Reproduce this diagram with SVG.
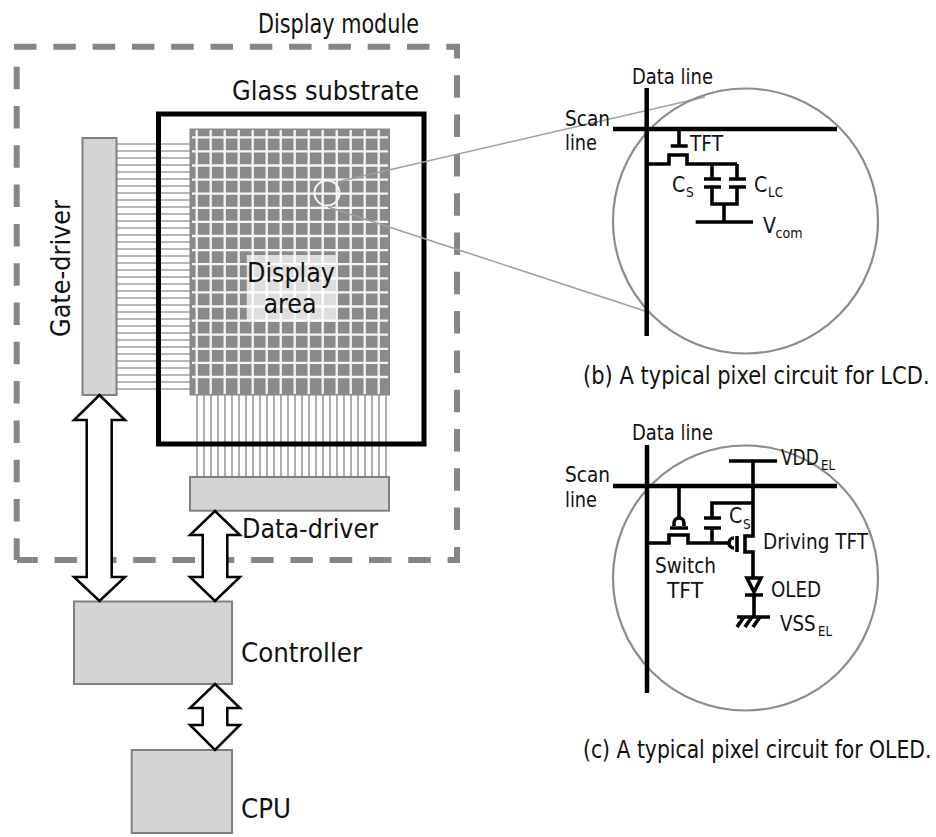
<svg xmlns="http://www.w3.org/2000/svg" width="936" height="837" viewBox="0 0 936 837">
<defs><style>
text{font-family:"DejaVu Sans Condensed","DejaVu Sans","Liberation Sans",sans-serif;font-stretch:condensed;fill:#111}
.l{font-size:26.500px}.c{font-size:25px}.m{font-size:21px}.s{font-size:13.500px}
.box{fill:#d4d4d4;stroke:#808080;stroke-width:2}
.arrow{fill:#fff;stroke:#000;stroke-width:2.500;stroke-linejoin:miter}
.w{fill:none;stroke:#000;stroke-width:3.600}
.wide{fill:none;stroke:#000;stroke-width:4.500}
.bus{stroke:#a0a0a0;stroke-width:1.700;fill:none}
.grid{stroke:#f6f6f6;stroke-width:2.300;fill:none}
.lead{stroke:#a0a0a0;stroke-width:1.600;fill:none}
.ring{fill:none;stroke:#8c8c8c;stroke-width:2.200}
.dash{fill:none;stroke:#868686;stroke-width:6;stroke-dasharray:22.500 16.800}
</style></defs>
<rect width="936" height="837" fill="#fff"/>

<g id="display-module"><path class="dash" d="M14 46.700H457V560H17"/><path class="dash" d="M16.700 66.700V560"/><text class="l" x="258" y="33" textLength="161" lengthAdjust="spacingAndGlyphs">Display module</text></g>

<g id="bus-lines">
<path class="bus" d="M117 144H190M117 151H190M117 158H190M117 165H190M117 172H190M117 179H190M117 186H190M117 193H190M117 200H190M117 207H190M117 214H190M117 221H190M117 228H190M117 235H190M117 242H190M117 249H190M117 256H190M117 263H190M117 270H190M117 277H190M117 284H190M117 291H190M117 298H190M117 305H190M117 312H190M117 319H190M117 326H190M117 333H190M117 340H190M117 347H190M117 354H190M117 361H190M117 368H190M117 375H190M117 382H190M117 389H190"/>
<path class="bus" d="M197 395V477M204 395V477M211 395V477M218 395V477M225 395V477M232 395V477M239 395V477M246 395V477M253 395V477M260 395V477M267 395V477M274 395V477M281 395V477M288 395V477M295 395V477M302 395V477M309 395V477M316 395V477M323 395V477M330 395V477M337 395V477M344 395V477M351 395V477M358 395V477M365 395V477M372 395V477M379 395V477M386 395V477"/>
</g>

<g id="glass-substrate"><rect x="158.500" y="114" width="265.500" height="330" fill="none" stroke="#000" stroke-width="5"/><text class="l" x="232" y="99.500" textLength="187" lengthAdjust="spacingAndGlyphs">Glass substrate</text></g>

<g id="display-area">
<rect x="190" y="129" width="199.500" height="266" fill="#8a8a8a" stroke="#8a8a8a" stroke-width="1"/>
<path class="grid" d="M192 137.300H388M192 151.400H388M192 165.500H388M192 179.600H388M192 193.700H388M192 207.800H388M192 221.900H388M192 236H388M192 250.100H388M192 264.200H388M192 278.300H388M192 292.400H388M192 306.500H388M192 320.600H388M192 334.700H388M192 348.800H388M192 362.900H388M192 377H388"/>
<path class="grid" d="M196.700 130V394M210.700 130V394M224.700 130V394M238.700 130V394M252.700 130V394M266.700 130V394M280.700 130V394M294.700 130V394M308.700 130V394M322.700 130V394M336.700 130V394M350.700 130V394M364.700 130V394M378.700 130V394"/>
<rect x="246.700" y="255" width="89" height="66.700" fill="#fff" fill-opacity=".72"/>
<text class="l" x="247" y="281.700" textLength="88" lengthAdjust="spacingAndGlyphs">Display</text>
<text class="l" x="263.500" y="313" textLength="53" lengthAdjust="spacingAndGlyphs">area</text>
<circle cx="327" cy="193" r="12.500" fill="none" stroke="#f6f6f6" stroke-width="2"/>
</g>

<g id="gate-driver"><rect class="box" x="82.500" y="138" width="34" height="257"/><text class="l" transform="translate(70 337) rotate(-90)" textLength="137" lengthAdjust="spacingAndGlyphs">Gate-driver</text></g>
<g id="data-driver"><rect class="box" x="190" y="477" width="199" height="33.700"/><text class="l" x="242" y="538" textLength="136" lengthAdjust="spacingAndGlyphs">Data-driver</text></g>
<g id="controller"><rect class="box" x="74" y="601.500" width="158" height="82.500"/><text class="l" x="241" y="662" textLength="121" lengthAdjust="spacingAndGlyphs">Controller</text></g>
<g id="cpu"><rect class="box" x="131.700" y="750" width="100.300" height="83"/><text class="l" x="241" y="818" textLength="50" lengthAdjust="spacingAndGlyphs">CPU</text></g>

<g id="connectors">
<path class="arrow" d="M99.500 395L125 420H111.700V577H125L99.500 601L74 577H86.700V420H74Z"/>
<path class="arrow" d="M215 511L240 535H227.300V577H240L215 601L190 577H202.700V535H190Z"/>
<path class="arrow" d="M215 684L240 708H227.300V725H240L215 750L190 725H202.700V708H190Z"/>
<path class="lead" d="M338 181.700L705 97M328 207L648 312"/>
</g>

<g id="pixel-lcd">
<circle class="ring" cx="745.500" cy="221" r="132.500"/>
<path class="wide" d="M646.700 88V336M613 129H837"/>
<path class="w" d="M679 129V146M670.700 146H687.700M647 164H669V155H687V164H737M712 164V179M737 164V179M704 179H721M729 179H746M704 187H721M729 187H746M712 187V204H737V187M724 204V222M695.700 222H753"/>
<text class="m" x="632" y="84" textLength="81" lengthAdjust="spacingAndGlyphs">Data line</text>
<text class="m" x="565" y="126" textLength="45" lengthAdjust="spacingAndGlyphs">Scan</text>
<text class="m" x="565" y="150" textLength="32" lengthAdjust="spacingAndGlyphs">line</text>
<text class="m" x="690" y="151" textLength="33" lengthAdjust="spacingAndGlyphs">TFT</text>
<text class="m" x="672" y="192">C</text><text class="s" x="686" y="197">S</text>
<text class="m" x="754" y="192">C</text><text class="s" x="768" y="197" textLength="15" lengthAdjust="spacingAndGlyphs">LC</text>
<text class="m" x="763" y="233">V</text><text class="s" x="775.500" y="238" textLength="27" lengthAdjust="spacingAndGlyphs">com</text>
<text class="c" transform="translate(583 384) scale(.935 1)">(b) A typical pixel circuit for LCD.</text>
</g>

<g id="pixel-oled">
<circle class="ring" cx="745.500" cy="578" r="132.500"/>
<path class="wide" d="M647 445V693M613 486H837"/>
<path class="w" d="M729 461H777M753 461V536H745V552H753V578M753 503H712V518M704 518H721M704 528H721M712 528V543M647 543H669V535H688V543H729M679 486V518M670 528H688M737 536V552M754 595V617M737 617H770M744 617L737 627M752 617L745 627M760 617L753 627M745 595H763"/>
<path class="w" d="M674 526V523A5 5 0 0 1 684 523V526"/>
<path class="w" d="M734 538A5 5 0 0 0 734 548"/>
<path class="w" d="M747 578H761L754 592Z"/>
<text class="m" x="632" y="440" textLength="81" lengthAdjust="spacingAndGlyphs">Data line</text>
<text class="m" x="565" y="482" textLength="45" lengthAdjust="spacingAndGlyphs">Scan</text>
<text class="m" x="565" y="507" textLength="32" lengthAdjust="spacingAndGlyphs">line</text>
<text class="m" transform="translate(781 465) scale(.9 1)">VDD</text><text class="s" x="821" y="470" textLength="14" lengthAdjust="spacingAndGlyphs">EL</text>
<text class="m" x="729" y="523">C</text><text class="s" x="743" y="529">S</text>
<text class="m" x="763" y="549" textLength="105" lengthAdjust="spacingAndGlyphs">Driving TFT</text>
<text class="m" x="655" y="573" textLength="61" lengthAdjust="spacingAndGlyphs">Switch</text>
<text class="m" x="667" y="598" textLength="36" lengthAdjust="spacingAndGlyphs">TFT</text>
<text class="m" x="771" y="597" textLength="50" lengthAdjust="spacingAndGlyphs">OLED</text>
<text class="m" x="780" y="631" textLength="35.500" lengthAdjust="spacingAndGlyphs">VSS</text><text class="s" x="818" y="636" textLength="14" lengthAdjust="spacingAndGlyphs">EL</text>
<text class="c" transform="translate(583 758) scale(.905 1)">(c) A typical pixel circuit for OLED.</text>
</g>
</svg>
